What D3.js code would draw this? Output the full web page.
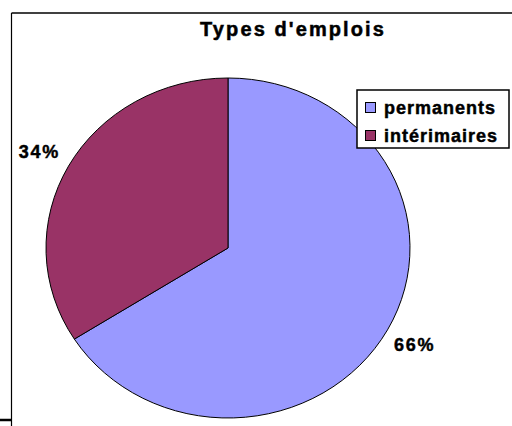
<!DOCTYPE html>
<html>
<head>
<meta charset="utf-8">
<script src="https://cdn.jsdelivr.net/npm/d3@7"></script>
<style>
  body { margin: 0; background: #fff; }
</style>
</head>
<body>
<div class="chart"></div>
<script>
let width = 512;
let height = 426;

// données
let categories = ["permanents", "intérimaires"];
let valeurs = [66, 34];
let couleurs = ["#9999ff", "#993366"];
let titre = "Types d'emplois";

let police = '"Liberation Sans", Arial, sans-serif';

let svg = d3.select('.chart')
    .append('svg')
    .attr('width', width)
    .attr('height', height);

// cadre (seuls les bords haut et gauche sont visibles)
svg.append('line')
    .attr('x1', 11.5).attr('y1', 13).attr('x2', width).attr('y2', 13)
    .attr('stroke', '#000').attr('stroke-width', 1.5);
svg.append('line')
    .attr('x1', 11.5).attr('y1', 13).attr('x2', 11.5).attr('y2', height)
    .attr('stroke', '#000').attr('stroke-width', 1.2);
svg.append('line')
    .attr('x1', 0).attr('y1', 420).attr('x2', 11.5).attr('y2', 420)
    .attr('stroke', '#000').attr('stroke-width', 2.5);

// titre
svg.append('text')
    .attr('x', 293)
    .attr('y', 36)
    .attr('text-anchor', 'middle')
    .style('font-family', police)
    .style('font-weight', 'bold')
    .style('font-size', '20px')
    .style('letter-spacing', '2.1px')
    .style('stroke', '#000')
    .style('stroke-width', '0.5px')
    .text(titre);

// camembert (légèrement ovale)
let cx = 228, cy = 248, ry = 170, rx = 182;
let pie = d3.pie().sort(null).value(d => d);
let arcs = pie(valeurs);
let arc = d3.arc().innerRadius(0).outerRadius(ry);
let labelArc = d3.arc().innerRadius(200).outerRadius(200);

let g = svg.append('g')
    .attr('transform', 'translate(' + cx + ',' + cy + ') scale(' + (rx / ry) + ',1)');

g.selectAll('path')
    .data(arcs)
    .enter()
    .append('path')
    .attr('d', arc)
    .attr('fill', (d, i) => couleurs[i])
    .attr('stroke', '#000')
    .attr('stroke-width', 1)
    .attr('vector-effect', 'non-scaling-stroke');

// étiquettes en pourcentage
let total = d3.sum(valeurs);
arcs.forEach(function (d) {
    let c = labelArc.centroid(d);
    svg.append('text')
        .attr('x', cx + c[0] * rx / ry - 1)
        .attr('y', cy + c[1])
        .attr('dy', '0.36em')
        .attr('text-anchor', 'middle')
        .style('font-family', police)
        .style('font-weight', 'bold')
        .style('font-size', '18px')
        .style('letter-spacing', '1.8px')
        .style('stroke', '#000')
        .style('stroke-width', '0.45px')
        .text(Math.round(d.value / total * 100) + '%');
});

// légende
let leg = svg.append('g').attr('transform', 'translate(357,90)');
leg.append('rect')
    .attr('x', 0).attr('y', 0)
    .attr('width', 152).attr('height', 58)
    .attr('fill', '#fff')
    .attr('stroke', '#000')
    .attr('stroke-width', 1.5);

categories.forEach(function (c, i) {
    leg.append('rect')
        .attr('x', 8.5).attr('y', 12.5 + i * 28)
        .attr('width', 10).attr('height', 10)
        .attr('fill', couleurs[i])
        .attr('stroke', '#000')
        .attr('stroke-width', 1);
    leg.append('text')
        .attr('x', 27)
        .attr('y', 23.5 + i * 28)
        .style('font-family', police)
        .style('font-weight', 'bold')
        .style('font-size', '18px')
        .style('letter-spacing', '1px')
        .style('stroke', '#000')
        .style('stroke-width', '0.45px')
        .text(c);
});
</script>
</body>
</html>
